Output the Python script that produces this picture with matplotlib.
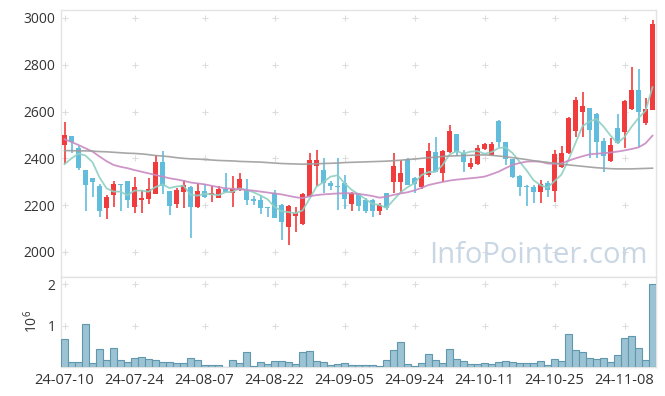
import numpy as np
import pandas as pd
import matplotlib
matplotlib.use('Agg')
import matplotlib.pyplot as plt

plt.rcParams['font.family'] = ['Open Sans', 'DejaVu Sans']

# daily candles, 2024-07-10 .. 2024-11-14 (85 trading days)
open_ = [2455, 2495, 2443, 2351, 2316, 2282, 2190, 2245, 2291, 2304,
         2194, 2220, 2228, 2249, 2386, 2261, 2204, 2258, 2278, 2194,
         2261, 2245, 2232, 2268, 2251, 2265, 2265, 2226, 2222, 2190,
         2254, 2201, 2105, 2155, 2118, 2237, 2369, 2350, 2294, 2282,
         2294, 2204, 2248, 2220, 2220, 2177, 2251, 2301, 2301, 2396,
         2315, 2277, 2329, 2426, 2336, 2429, 2504, 2425, 2361, 2376,
         2439, 2415, 2560, 2469, 2396, 2325, 2282, 2277, 2255, 2293,
         2261, 2365, 2424, 2517, 2600, 2614, 2590, 2474, 2390, 2528,
         2514, 2611, 2692, 2553, 2607]
high = [2554, 2497, 2454, 2351, 2317, 2290, 2244, 2305, 2292, 2305,
        2319, 2265, 2315, 2415, 2432, 2262, 2272, 2308, 2280, 2293,
        2289, 2282, 2280, 2336, 2325, 2336, 2310, 2239, 2244, 2191,
        2265, 2203, 2200, 2194, 2250, 2425, 2436, 2400, 2305, 2400,
        2329, 2258, 2251, 2230, 2225, 2208, 2254, 2422, 2393, 2400,
        2322, 2360, 2465, 2493, 2435, 2543, 2506, 2436, 2400, 2457,
        2467, 2472, 2562, 2472, 2398, 2330, 2285, 2287, 2308, 2305,
        2436, 2453, 2578, 2664, 2682, 2616, 2595, 2486, 2486, 2588,
        2650, 2792, 2782, 2660, 2991]
low = [2376, 2422, 2352, 2175, 2233, 2148, 2140, 2194, 2175, 2190,
       2165, 2165, 2204, 2246, 2249, 2157, 2187, 2187, 2058, 2190,
       2232, 2215, 2230, 2255, 2194, 2262, 2201, 2201, 2162, 2148,
       2145, 2051, 2030, 2087, 2115, 2235, 2280, 2251, 2265, 2180,
       2183, 2177, 2173, 2165, 2148, 2158, 2180, 2254, 2254, 2285,
       2254, 2270, 2320, 2340, 2301, 2425, 2410, 2343, 2355, 2370,
       2436, 2410, 2447, 2372, 2315, 2240, 2197, 2211, 2208, 2236,
       2215, 2360, 2420, 2493, 2493, 2400, 2400, 2343, 2385, 2460,
       2443, 2605, 2450, 2543, 2605]
close = [2500, 2468, 2360, 2288, 2301, 2177, 2234, 2291, 2286, 2224,
         2277, 2232, 2269, 2386, 2281, 2198, 2265, 2286, 2194, 2261,
         2236, 2254, 2268, 2258, 2268, 2310, 2222, 2218, 2189, 2188,
         2147, 2130, 2197, 2165, 2248, 2393, 2393, 2294, 2281, 2278,
         2225, 2251, 2198, 2177, 2177, 2201, 2187, 2368, 2339, 2287,
         2291, 2358, 2432, 2343, 2432, 2517, 2429, 2383, 2382, 2443,
         2462, 2462, 2472, 2396, 2322, 2279, 2278, 2258, 2291, 2265,
         2420, 2421, 2571, 2650, 2625, 2521, 2472, 2412, 2457, 2467,
         2645, 2692, 2600, 2611, 2974]
volume = [0.67, 0.12, 0.12, 1.04, 0.10, 0.43, 0.16, 0.47, 0.18, 0.12,
          0.22, 0.25, 0.20, 0.18, 0.12, 0.12, 0.10, 0.10, 0.22, 0.16,
          0.05, 0.05, 0.05, 0.01, 0.18, 0.10, 0.37, 0.03, 0.12, 0.08,
          0.15, 0.15, 0.12, 0.08, 0.35, 0.39, 0.15, 0.12, 0.05, 0.08,
          0.10, 0.05, 0.05, 0.05, 0.05, 0.03, 0.18, 0.42, 0.60, 0.08,
          0.03, 0.10, 0.32, 0.18, 0.10, 0.44, 0.20, 0.15, 0.08, 0.08,
          0.10, 0.08, 0.12, 0.15, 0.12, 0.10, 0.10, 0.10, 0.15, 0.05,
          0.20, 0.15, 0.79, 0.42, 0.37, 0.22, 0.20, 0.22, 0.12, 0.30,
          0.69, 0.74, 0.47, 0.17, 1.99]  # millions

# moving averages (windows reach before the first day)
ma5_head = [2375, 2400, 2420, 2412]
ma20 = [2482, 2470, 2457, 2443, 2429, 2408, 2388, 2372, 2364, 2358,
        2350, 2343, 2336, 2329, 2322, 2315, 2310, 2304, 2297, 2293,
        2289, 2283, 2277, 2272, 2270, 2268, 2265, 2262, 2258, 2254,
        2250, 2246, 2240, 2234, 2230, 2238, 2243, 2246, 2248, 2250,
        2251, 2251, 2248, 2244, 2239, 2232, 2236, 2244, 2250, 2255,
        2263, 2274, 2286, 2293, 2299, 2305, 2309, 2312, 2315, 2318,
        2322, 2332, 2343, 2358, 2372, 2380, 2386, 2387, 2386, 2378,
        2377, 2379, 2390, 2400, 2409, 2417, 2420, 2422, 2425, 2429,
        2434, 2440, 2447, 2464, 2497]
ma_long = [2433, 2433, 2432, 2432, 2431, 2429, 2428, 2426, 2424, 2422,
           2421, 2419, 2416, 2412, 2410, 2407, 2403, 2400, 2398, 2397,
           2395, 2393, 2391, 2390, 2389, 2387, 2386, 2385, 2384, 2382,
           2380, 2378, 2377, 2376, 2375, 2376, 2377, 2378, 2379, 2380,
           2382, 2383, 2384, 2385, 2386, 2387, 2388, 2390, 2392, 2395,
           2397, 2400, 2403, 2405, 2408, 2410, 2411, 2412, 2413, 2414,
           2415, 2413, 2410, 2407, 2403, 2399, 2395, 2390, 2386, 2383,
           2379, 2375, 2372, 2369, 2366, 2363, 2360, 2358, 2356, 2355,
           2355, 2355, 2356, 2357, 2358]

tick_pos = [0, 10, 20, 30, 40, 50, 60, 70, 80]
tick_labels = ['24-07-10', '24-07-24', '24-08-07', '24-08-22', '24-09-05',
               '24-09-24', '24-10-11', '24-10-25', '24-11-08']

o = np.array(open_, float)
h = np.array(high, float)
l = np.array(low, float)
c = np.array(close, float)
x = np.arange(len(c))

ma5 = pd.Series(c).rolling(5).mean().to_numpy()
ma5[:4] = ma5_head

up = c >= o
red = '#f03c3c'
blue = '#62bcdb'
col = np.where(up, red, blue)

fig = plt.figure(figsize=(6.65, 3.96), dpi=100)
ax = fig.add_axes([61/665, 1 - 277/396, 595/665, 267/396])
axv = fig.add_axes([61/665, 1 - 367/396, 595/665, 90/396], sharex=ax)

# candles
ax.vlines(x, l, h, colors=col, linewidth=1.2, zorder=3)
body = np.maximum(np.abs(c - o), 4)
ax.bar(x, body, bottom=np.minimum(o, c), width=0.68, color=col, zorder=4)

ax.plot(x, ma5, color='#8fd0c4', lw=1.3, alpha=0.9, zorder=5)
ax.plot(x, ma20, color='#c98ac2', lw=1.3, alpha=0.9, zorder=5)
ax.plot(x, ma_long, color='#9e9e9e', lw=1.2, alpha=0.9, zorder=5)

ax.text(0.803, 0.082, 'InfoPointer.com', transform=ax.transAxes,
        fontsize=21, color='#c8d7e3', ha='center', va='center', zorder=1)

ax.set_xlim(-0.5, 84.5)
ax.set_ylim(1893, 3034)
yt = [2000, 2200, 2400, 2600, 2800, 3000]
ax.set_yticks(yt)
ax.set_yticklabels([str(v) for v in yt])

# volume
vol = np.array(volume) * 1e6
axv.bar(x, vol, width=1.0, color='#9cc3d3', edgecolor='#5f97ae', linewidth=0.8, zorder=3)
axv.set_ylim(0, 2.17e6)
axv.set_yticks([1e6, 2e6])
axv.set_yticklabels(['1', '2'])
axv.set_xticks(tick_pos)
axv.set_xticklabels(tick_labels)
fig.text(32/665, 1 - 321/396, r'$\mathregular{10^6}$', rotation=90,
         fontsize=10, color='#333333', ha='center', va='center')

# grid crosses
gx, gy = np.meshgrid(tick_pos, yt)
ax.scatter(gx.ravel(), gy.ravel(), marker='+', s=14, color='#dddddd', lw=0.8, zorder=0)
gx, gy = np.meshgrid(tick_pos, [1e6, 2e6])
axv.scatter(gx.ravel(), gy.ravel(), marker='+', s=14, color='#dddddd', lw=0.8, zorder=0)

for a in (ax, axv):
    for s in a.spines.values():
        s.set_color('#e3e3e3')
        s.set_linewidth(1.0)
    a.tick_params(length=0, labelsize=10, colors='#333333', pad=4)
axv.tick_params(axis='x', labelsize=10.5)
ax.tick_params(labelbottom=False)

fig.savefig('out.png', dpi=100)
